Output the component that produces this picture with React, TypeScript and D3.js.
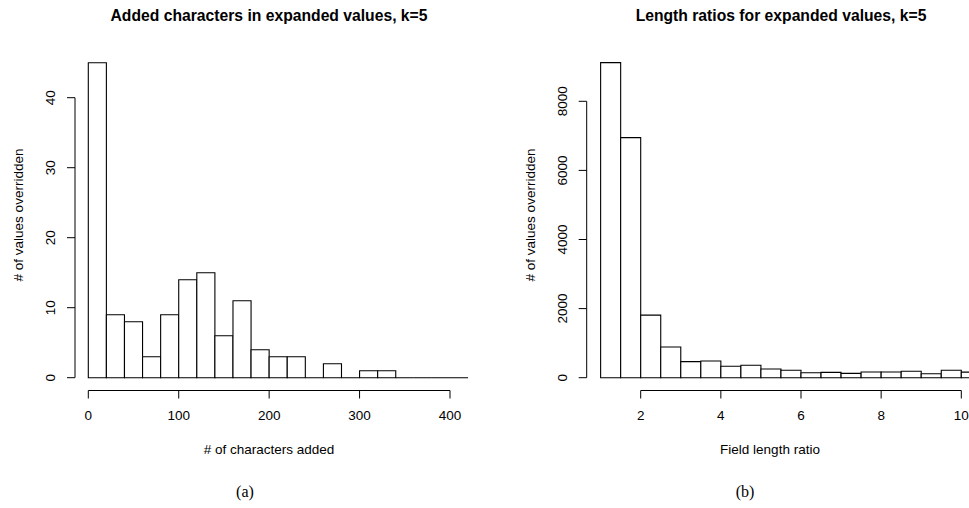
import React, { useEffect, useRef } from "react";
import * as d3 from "d3";

const width = 969;
const height = 508;

// (a) added characters, bins of 20
const addedEdges = [0, 20, 40, 60, 80, 100, 120, 140, 160, 180, 200, 220, 240, 260, 280, 300, 320, 340, 360, 380, 400, 420];
const addedCounts = [45, 9, 8, 3, 9, 14, 15, 6, 11, 4, 3, 3, 0, 2, 0, 1, 1, 0, 0, 0, 0];
const addedXTicks = [0, 100, 200, 300, 400];
const addedYTicks = [0, 10, 20, 30, 40];

// (b) length ratios, bins of 0.5
const ratioEdges = [1, 1.5, 2, 2.5, 3, 3.5, 4, 4.5, 5, 5.5, 6, 6.5, 7, 7.5, 8, 8.5, 9, 9.5, 10, 10.5];
const ratioCounts = [9120, 6950, 1810, 890, 465, 485, 330, 360, 250, 215, 145, 155, 125, 165, 165, 185, 115, 215, 160];
const ratioXTicks = [2, 4, 6, 8, 10];
const ratioYTicks = [0, 2000, 4000, 6000, 8000];

const sans = "'Liberation Sans', Arial, Helvetica, sans-serif";
const serif = "'Liberation Serif', 'Times New Roman', serif";

const panels = [
  {
    edges: addedEdges, counts: addedCounts, xTicks: addedXTicks, yTicks: addedYTicks,
    xDomain: [0, 400], xRange: [88.3, 450], yDomain: [0, 40], yRange: [377.7, 97.7],
    yAxisX: 75, yTickX: 55, yLabelX: 23, titleX: 269, xLabelX: 269, capX: 245,
    title: "Added characters in expanded values, k=5",
    xLabel: "# of characters added", cap: "(a)"
  },
  {
    edges: ratioEdges, counts: ratioCounts, xTicks: ratioXTicks, yTicks: ratioYTicks,
    xDomain: [2, 10], xRange: [640.7, 961.3], yDomain: [0, 8000], yRange: [377.7, 101.3],
    yAxisX: 586.7, yTickX: 567, yLabelX: 535, titleX: 781, xLabelX: 770, capX: 745,
    title: "Length ratios for expanded values, k=5",
    xLabel: "Field length ratio", cap: "(b)"
  }
];

function drawPanel(svg, p) {
  const x = d3.scaleLinear().domain(p.xDomain).range(p.xRange);
  const y = d3.scaleLinear().domain(p.yDomain).range(p.yRange);
  const xAxisY = 390.5;
  const tick = 8;
  const g = svg.append("g");

  // bars as paths so empty bins still show as a line on the baseline
  g.selectAll("path.bar")
    .data(p.counts)
    .enter()
    .append("path")
    .attr("class", "bar")
    .attr("d", (d, i) => {
      const x0 = x(p.edges[i]), x1 = x(p.edges[i + 1]);
      return `M${x0},${y(0)}V${y(d)}H${x1}V${y(0)}Z`;
    })
    .attr("fill", "white")
    .attr("stroke", "#000")
    .attr("stroke-width", 1.1);

  // y axis
  const yMin = d3.min(p.yTicks), yMax = d3.max(p.yTicks);
  g.append("line")
    .attr("x1", p.yAxisX).attr("x2", p.yAxisX)
    .attr("y1", y(yMin)).attr("y2", y(yMax))
    .attr("stroke", "#000");
  g.selectAll("line.ytick")
    .data(p.yTicks)
    .enter()
    .append("line")
    .attr("class", "ytick")
    .attr("x1", p.yAxisX - tick).attr("x2", p.yAxisX)
    .attr("y1", d => y(d)).attr("y2", d => y(d))
    .attr("stroke", "#000");
  g.selectAll("text.ytick")
    .data(p.yTicks)
    .enter()
    .append("text")
    .attr("class", "ytick")
    .attr("transform", d => `translate(${p.yTickX},${y(d)}) rotate(-90)`)
    .attr("text-anchor", "middle")
    .style("font-family", sans)
    .style("font-size", "13.5px")
    .text(d => d);

  // x axis
  const xMin = d3.min(p.xTicks), xMax = d3.max(p.xTicks);
  g.append("line")
    .attr("x1", x(xMin)).attr("x2", x(xMax))
    .attr("y1", xAxisY).attr("y2", xAxisY)
    .attr("stroke", "#000");
  g.selectAll("line.xtick")
    .data(p.xTicks)
    .enter()
    .append("line")
    .attr("class", "xtick")
    .attr("x1", d => x(d)).attr("x2", d => x(d))
    .attr("y1", xAxisY).attr("y2", xAxisY + tick)
    .attr("stroke", "#000");
  g.selectAll("text.xtick")
    .data(p.xTicks)
    .enter()
    .append("text")
    .attr("class", "xtick")
    .attr("x", d => x(d))
    .attr("y", 420)
    .attr("text-anchor", "middle")
    .style("font-family", sans)
    .style("font-size", "13.5px")
    .text(d => d);

  // titles and labels
  g.append("text")
    .attr("x", p.titleX).attr("y", 21)
    .attr("text-anchor", "middle")
    .style("font-family", sans)
    .style("font-size", "15.7px")
    .style("font-weight", "bold")
    .text(p.title);
  g.append("text")
    .attr("x", p.xLabelX).attr("y", 454)
    .attr("text-anchor", "middle")
    .style("font-family", sans)
    .style("font-size", "13.5px")
    .text(p.xLabel);
  g.append("text")
    .attr("transform", `translate(${p.yLabelX},215) rotate(-90)`)
    .attr("text-anchor", "middle")
    .style("font-family", sans)
    .style("font-size", "13.5px")
    .text("# of values overridden");
  g.append("text")
    .attr("x", p.capX).attr("y", 497)
    .attr("text-anchor", "middle")
    .style("font-family", serif)
    .style("font-size", "16px")
    .text(p.cap);
}

export default function App() {
  const ref = useRef(null);

  useEffect(() => {
    document.body.style.margin = "0";
    const svg = d3.select(ref.current);
    svg.selectAll("*").remove();
    svg.append("rect").attr("width", width).attr("height", height).attr("fill", "white");
    panels.forEach(p => drawPanel(svg, p));
  }, []);

  return (
    <svg ref={ref} width={width} height={height} style={{ display: "block" }} />
  );
}
